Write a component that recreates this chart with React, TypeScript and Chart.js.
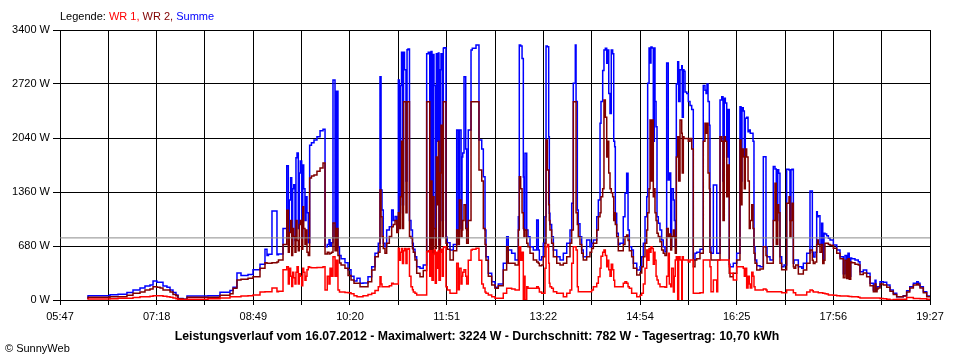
import React, { useEffect, useRef } from "react";
import { Chart, registerables } from "chart.js";

Chart.register(...registerables);

// time of day in minutes since midnight (05:47 = 347, 19:27 = 1167)
const times = [
  373.4, 394.1, 401.7, 410.1, 415.8, 422.4, 427.1, 431.8, 434.7, 438.4,
  441.3, 444.1, 447.8, 450.7, 453.5, 456.3, 458.2, 462.9, 466.7, 486.5,
  497.8, 507.2, 510.1, 513.8, 517.6, 524.2, 528.9, 535.5, 540.2, 542.1,
  543.5, 546.8, 551.5, 552.9, 557.2, 560.7, 562.2, 563.1, 564.4, 565.4,
  566.3, 567.3, 568.5, 569.4, 570.4, 571.6, 572.5, 573.5, 574.8, 575.8,
  576.7, 577.9, 578.9, 579.8, 581.0, 582.3, 584.0, 586.4, 589.2, 592.1,
  594.9, 596.8, 598.9, 600.5, 601.5, 602.9, 604.3, 606.2, 607.6, 609.0,
  610.4, 611.9, 615.6, 618.5, 621.3, 624.1, 626.9, 629.8, 632.6, 637.3,
  640.8, 643.9, 647.0, 648.6, 649.6, 650.5, 651.7, 653.3, 654.9, 657.4,
  659.6, 661.1, 662.8, 664.4, 665.9, 666.8, 667.9, 668.9, 669.8, 670.8,
  671.7, 673.1, 674.1, 675.0, 676.4, 677.8, 679.2, 680.0, 681.6, 683.2,
  686.3, 689.4, 692.6, 694.1, 695.5, 696.7, 697.6, 698.9, 699.5, 700.7,
  701.7, 702.3, 703.6, 704.2, 705.5, 706.1, 707.3, 708.3, 708.9, 710.8,
  712.0, 714.6, 717.7, 720.9, 722.4, 723.4, 725.0, 725.9, 726.6, 727.8,
  729.4, 730.3, 731.8, 734.4, 735.6, 739.1, 741.9, 744.5, 746.0, 747.6,
  748.5, 750.7, 753.9, 757.0, 760.1, 764.8, 768.0, 769.5, 772.7, 775.9,
  779.0, 779.9, 781.2, 782.5, 783.7, 784.3, 785.3, 786.9, 788.1, 790.0,
  793.1, 796.3, 797.8, 798.8, 801.0, 802.5, 804.1, 805.1, 806.3, 807.6,
  808.2, 808.8, 810.4, 812.0, 815.2, 818.3, 821.4, 824.6, 827.7, 829.3,
  830.8, 832.7, 833.4, 834.6, 835.5, 837.1, 838.7, 840.2, 843.4, 846.5,
  848.1, 849.7, 852.9, 854.4, 856.0, 856.9, 858.5, 859.7, 861.0, 862.3,
  863.2, 864.2, 865.4, 866.6, 867.9, 868.9, 869.8, 870.4, 871.7, 873.2,
  874.8, 877.9, 879.5, 881.1, 882.4, 883.6, 885.8, 887.4, 890.6, 893.7,
  895.3, 896.8, 898.4, 900.0, 900.9, 902.2, 903.1, 904.0, 905.0, 906.2,
  907.2, 907.8, 908.8, 909.7, 910.9, 912.5, 914.1, 915.6, 917.2, 918.8,
  920.3, 921.3, 922.6, 923.5, 925.1, 926.0, 926.9, 927.9, 929.2, 930.1,
  931.4, 933.0, 933.5, 934.5, 935.1, 936.1, 937.7, 939.2, 940.8, 942.4,
  943.9, 945.5, 947.1, 950.2, 953.3, 954.9, 955.9, 956.8, 957.8, 959.0,
  959.6, 960.6, 962.8, 966.0, 966.9, 969.1, 970.7, 971.9, 973.1, 974.1,
  975.4, 976.6, 977.8, 978.5, 981.6, 984.8, 987.9, 988.9, 989.8, 991.0,
  992.0, 992.9, 994.2, 995.5, 996.7, 997.6, 999.0, 1000.2, 1001.1, 1002.1,
  1003.7, 1006.8, 1009.9, 1012.4, 1013.4, 1016.2, 1019.3, 1020.9, 1022.1, 1023.5,
  1024.4, 1025.6, 1027.2, 1029.4, 1031.9, 1034.1, 1035.0, 1036.0, 1036.9, 1038.2,
  1038.8, 1040.4, 1042.9, 1046.1, 1047.6, 1050.8, 1053.9, 1056.1, 1057.0, 1058.6,
  1060.2, 1060.8, 1061.7, 1063.3, 1064.9, 1065.9, 1067.1, 1068.0, 1069.6, 1071.2,
  1072.8, 1075.9, 1079.1, 1082.2, 1085.3, 1086.9, 1088.5, 1089.7, 1090.9, 1092.3,
  1093.2, 1096.3, 1099.4, 1101.0, 1104.1, 1107.3, 1110.5, 1113.6, 1115.2, 1116.1,
  1117.1, 1118.0, 1119.9, 1123.0, 1126.2, 1129.3, 1132.4, 1135.6, 1138.7, 1141.8,
  1145.0, 1147.9, 1151.3, 1154.5, 1156.0, 1157.6, 1160.7, 1163.9, 1166.3, 1167.0,
];

// Summe (W)
const summe = [
  15, 55, 65, 72, 95, 126, 150, 175, 190, 240,
  225, 222, 176, 160, 126, 95, 63, 20, 10, 50,
  55, 97, 120, 160, 340, 310, 320, 380, 450, 640,
  560, 575, 1120, 570, 580, 900, 1690, 800, 1260, 1540,
  700, 1400, 1450, 750, 1790, 1850, 900, 1600, 1750, 800,
  1700, 1400, 1000, 1300, 1100, 720, 1950, 1980, 2015, 2056,
  2132, 2150, 671, 700, 760, 680, 720, 2770, 800, 2630,
  671, 560, 520, 470, 380, 300, 240, 273, 210, 215,
  293, 420, 588, 714, 2811, 1385, 1133, 714, 671, 881,
  923, 1133, 1000, 1050, 881, 2770, 1100, 2700, 3120, 1200,
  3120, 2900, 1500, 3150, 3160, 1000, 881, 714, 640, 545,
  420, 400, 440, 3100, 3120, 800, 3130, 700, 3090, 2700,
  800, 3100, 2000, 3110, 700, 2900, 3100, 1000, 3170, 3175,
  790, 720, 630, 700, 2140, 830, 2140, 900, 1800, 1850,
  2811, 1900, 881, 2140, 3148, 3170, 3210, 2015, 1900, 1553,
  881, 545, 336, 230, 160, 200, 462, 797, 630, 588,
  504, 1049, 3210, 3200, 3040, 1550, 881, 1847, 881, 797,
  671, 630, 1007, 630, 504, 545, 714, 1049, 3198, 3190,
  2056, 1091, 950, 797, 630, 545, 504, 588, 714, 881,
  1217, 2728, 3210, 2500, 1133, 960, 797, 630, 545, 755,
  671, 714, 755, 1049, 1259, 2225, 2500, 2890, 3148, 3170,
  2980, 3148, 2600, 2350, 3148, 3100, 2000, 1930, 1091, 840,
  700, 714, 1049, 1343, 1595, 881, 671, 630, 462, 378,
  420, 545, 714, 1049, 1300, 2728, 3173, 2983, 3185, 3173,
  2000, 3173, 2500, 2182, 1049, 965, 881, 755, 671, 608,
  2983, 1511, 1600, 671, 1400, 1259, 1000, 671, 2720, 3000,
  2500, 2900, 2950, 2300, 2900, 2880, 2620, 2600, 2500, 2450,
  2400, 504, 588, 600, 640, 2700, 2640, 2600, 2720, 2500,
  2200, 671, 588, 1448, 588, 588, 2520, 2560, 1500, 2540,
  2480, 1800, 2400, 450, 420, 462, 588, 2434, 1500, 2420,
  2380, 1800, 2290, 2300, 2120, 2140, 2100, 2100, 2000, 671,
  504, 430, 420, 1804, 671, 545, 504, 1680, 1650, 1000,
  1640, 1595, 545, 420, 440, 1645, 1637, 1000, 1640, 1645,
  462, 504, 504, 420, 399, 462, 588, 1372, 600, 540,
  600, 1112, 1049, 1060, 700, 965, 504, 839, 830, 810,
  777, 755, 692, 630, 545, 330, 560, 330, 588, 300,
  530, 520, 504, 482, 357, 378, 336, 210, 126, 250,
  130, 168, 168, 231, 225, 190, 126, 84, 42, 42,
  55, 117, 168, 210, 231, 210, 168, 105, 50, 50,
];

// WR 2 (W)
const wr2 = [
  10, 34, 40, 42, 60, 84, 100, 126, 140, 168,
  160, 150, 126, 126, 100, 70, 55, 15, 8, 34,
  34, 60, 80, 147, 252, 262, 273, 293, 400, 470,
  462, 462, 470, 480, 504, 700, 1130, 600, 850, 1000,
  560, 900, 800, 600, 1000, 750, 620, 950, 1000, 640,
  1175, 900, 700, 880, 600, 560, 1536, 1560, 1574, 1620,
  1662, 1725, 580, 600, 580, 590, 600, 970, 620, 900,
  560, 466, 440, 400, 310, 252, 210, 210, 168, 168,
  230, 378, 545, 600, 1385, 1049, 800, 650, 588, 714,
  800, 923, 950, 1000, 850, 1100, 900, 1300, 2000, 900,
  2497, 2497, 1100, 2497, 2497, 800, 780, 650, 600, 504,
  336, 293, 370, 2497, 2497, 600, 1500, 560, 1300, 900,
  650, 1800, 1200, 2000, 600, 1600, 2200, 800, 2497, 2497,
  714, 640, 504, 620, 881, 700, 1259, 800, 881, 1000,
  1200, 900, 714, 1000, 2497, 2497, 2497, 1637, 1500, 900,
  700, 500, 300, 190, 147, 180, 378, 671, 462, 462,
  440, 881, 1553, 1400, 1100, 900, 800, 881, 714, 671,
  588, 504, 480, 462, 430, 440, 545, 714, 2015, 1637,
  1200, 1000, 881, 714, 545, 462, 440, 462, 545, 714,
  881, 2497, 2497, 1100, 950, 797, 700, 588, 504, 545,
  600, 650, 714, 881, 1049, 1100, 1300, 1400, 2518, 2300,
  1800, 2000, 1600, 1400, 1350, 1300, 1000, 1100, 950, 797,
  620, 620, 700, 797, 820, 750, 620, 545, 399, 315,
  340, 420, 545, 714, 881, 1100, 1400, 2266, 1500, 2266,
  1300, 1400, 1100, 1000, 839, 800, 734, 630, 588, 560,
  900, 800, 830, 630, 800, 880, 800, 588, 1800, 2056,
  1500, 2266, 2100, 1600, 2056, 2035, 2035, 2035, 2000, 2035,
  1900, 420, 504, 520, 588, 2000, 2225, 2100, 2225, 1600,
  1400, 600, 504, 504, 504, 504, 2056, 2000, 1000, 2056,
  2000, 1300, 1700, 336, 293, 336, 504, 2015, 1200, 1900,
  1804, 1400, 1900, 1800, 1500, 900, 1000, 1200, 900, 588,
  462, 378, 390, 671, 560, 462, 462, 1000, 1469, 700,
  1200, 1100, 462, 380, 380, 1217, 1300, 800, 1000, 1217,
  420, 400, 440, 327, 327, 378, 462, 630, 500, 460,
  480, 700, 755, 700, 600, 700, 460, 500, 714, 714,
  700, 690, 651, 588, 520, 280, 500, 270, 520, 260,
  480, 470, 450, 440, 320, 340, 293, 180, 105, 200,
  105, 140, 150, 200, 190, 160, 110, 70, 40, 40,
  50, 100, 150, 190, 200, 190, 150, 90, 40, 40,
];

// WR 1 (W)
const wr1 = [
  5, 12, 15, 21, 21, 30, 42, 42, 48, 54,
  54, 54, 48, 42, 35, 25, 15, 5, 2, 10,
  15, 25, 40, 42, 42, 50, 55, 63, 100, 105,
  105, 105, 150, 105, 110, 380, 420, 200, 400, 300,
  170, 350, 280, 200, 350, 420, 200, 330, 300, 180,
  400, 350, 250, 300, 380, 420, 410, 405, 405, 410,
  410, 420, 126, 300, 200, 400, 300, 545, 300, 500,
  126, 100, 100, 95, 92, 80, 55, 42, 42, 55,
  70, 84, 120, 168, 293, 200, 168, 168, 168, 168,
  180, 210, 200, 200, 200, 651, 500, 600, 650, 460,
  620, 650, 460, 640, 650, 300, 168, 130, 100, 84,
  63, 63, 63, 608, 620, 300, 620, 250, 580, 630,
  210, 600, 400, 620, 250, 600, 640, 300, 660, 671,
  168, 126, 84, 84, 462, 130, 400, 200, 300, 350,
  380, 300, 200, 500, 630, 640, 651, 500, 200, 150,
  100, 84, 63, 42, 21, 21, 84, 147, 147, 140,
  126, 126, 671, 500, 600, 0, 300, 0, 168, 147,
  147, 147, 168, 147, 100, 84, 84, 400, 671, 700,
  462, 210, 168, 147, 105, 84, 84, 42, 84, 126,
  462, 671, 671, 630, 168, 105, 105, 105, 105, 105,
  105, 126, 168, 210, 293, 400, 550, 600, 630, 560,
  420, 500, 380, 300, 450, 380, 250, 168, 168, 168,
  168, 168, 210, 230, 210, 168, 147, 84, 84, 42,
  60, 84, 200, 400, 630, 500, 650, 600, 671, 650,
  450, 600, 500, 300, 252, 200, 168, 168, 168, 160,
  300, 588, 200, 168, 400, 100, 300, 504, 545, 0,
  545, 504, 0, 545, 504, 504, 504, 504, 480, 504,
  504, 84, 84, 84, 90, 504, 504, 504, 504, 504,
  504, 420, 105, 252, 105, 504, 504, 504, 504, 504,
  504, 504, 504, 420, 336, 252, 420, 420, 420, 420,
  400, 300, 400, 150, 300, 200, 150, 350, 300, 168,
  126, 126, 126, 140, 126, 105, 105, 105, 105, 105,
  105, 105, 105, 92, 92, 126, 126, 126, 126, 126,
  92, 92, 63, 63, 63, 63, 100, 126, 117, 100,
  100, 100, 100, 90, 90, 90, 85, 85, 80, 75,
  63, 63, 60, 55, 50, 50, 50, 50, 48, 45,
  45, 42, 40, 34, 25, 25, 25, 25, 25, 25,
  25, 25, 25, 20, 15, 10, 0, 5, 10, 10,
  10, 30, 30, 20, 20, 20, 15, 15, 10, 10,
];

const tickLabels = ["05:47", "07:18", "08:49", "10:20", "11:51", "13:22", "14:54", "16:25", "17:56", "19:27"];
const startMinute = 347;
const endMinute = 1167;
const averageWatt = 782;
const yMax = 3400;
const yStep = 680;
const titleText =
  "Leistungsverlauf vom 16.07.2012 - Maximalwert: 3224 W - Durchschnitt: 782 W - Tagesertrag: 10,70 kWh";

const FONT = '"Liberation Sans", Arial, sans-serif';

export default function App() {
  const ref = useRef<HTMLCanvasElement>(null);

  useEffect(() => {
    if (!ref.current) return;
    const mk = (vals: number[]) => times.map((t, i) => ({ x: t, y: vals[i] }));
    const series = (label: string, vals: number[], color: string) => ({
      label,
      data: mk(vals),
      borderColor: color,
      backgroundColor: color,
      borderWidth: 1.5,
      pointRadius: 0,
      stepped: "after" as const,
      fill: false,
    });
    const chart = new Chart(ref.current, {
      type: "line",
      data: {
        datasets: [
          {
            label: "Durchschnitt",
            data: [
              { x: startMinute, y: averageWatt },
              { x: endMinute, y: averageWatt },
            ],
            borderColor: "#8c8c8c",
            borderWidth: 1,
            pointRadius: 0,
            fill: false,
          },
          series("WR 1", wr1, "#ff0000"),
          series("WR 2", wr2, "#800000"),
          series("Summe", summe, "#0000ff"),
        ],
      },
      options: {
        responsive: false,
        animation: false,
        devicePixelRatio: 1,
        layout: { padding: { left: 0, right: 30, top: 30, bottom: 35 } },
        plugins: {
          legend: { display: false },
          tooltip: { enabled: false },
          title: { display: false },
        },
        scales: {
          x: {
            type: "linear",
            min: startMinute,
            max: endMinute,
            z: 1,
            afterBuildTicks: (s: any) => {
              const n = (tickLabels.length - 1) * 2;
              const arr = [];
              for (let i = 0; i <= n; i++) arr.push({ value: startMinute + (i * (endMinute - startMinute)) / n });
              s.ticks = arr;
            },
            afterFit: (s: any) => {
              s.height = 25;
            },
            grid: { color: "#000", lineWidth: 1, tickLength: 5, drawTicks: true },
            border: { color: "#000", width: 1 },
            ticks: {
              autoSkip: false,
              maxRotation: 0,
              minRotation: 0,
              padding: 5,
              color: "#000",
              font: { family: FONT, size: 11 },
              callback: (_v: any, i: number) => (i % 2 === 0 ? tickLabels[i / 2] : ""),
            },
          },
          y: {
            min: 0,
            max: yMax,
            z: 1,
            afterFit: (s: any) => {
              s.width = 60;
            },
            grid: { color: "#000", lineWidth: 1, tickLength: 7 },
            border: { color: "#000", width: 1 },
            ticks: {
              stepSize: yStep,
              padding: 3,
              color: "#000",
              font: { family: FONT, size: 11 },
              callback: (v: any) => `${v} W`,
            },
          },
        },
      },
    });
    return () => chart.destroy();
  }, []);

  const textBase = {
    position: "absolute" as const,
    whiteSpace: "nowrap" as const,
    color: "#000",
  };

  return (
    <div style={{ position: "absolute", left: 0, top: 0, width: 960, height: 360, background: "#fff" }}>
      <canvas ref={ref} width={960} height={360} style={{ display: "block" }} />
      <div style={{ ...textBase, left: 60, top: 10, font: `11px ${FONT}`, lineHeight: "13px" }}>
        Legende: <span style={{ color: "#ff0000" }}>WR 1,</span>{" "}
        <span style={{ color: "#800000" }}>WR 2,</span> <span style={{ color: "#0000ff" }}>Summe</span>
      </div>
      <div
        style={{
          ...textBase,
          left: 0,
          width: 954,
          top: 329,
          textAlign: "center",
          font: `bold 12.3px ${FONT}`,
          lineHeight: "15px",
        }}
      >
        {titleText}
      </div>
      <div style={{ ...textBase, left: 5, top: 342, font: `11px ${FONT}`, lineHeight: "13px" }}>© SunnyWeb</div>
    </div>
  );
}
